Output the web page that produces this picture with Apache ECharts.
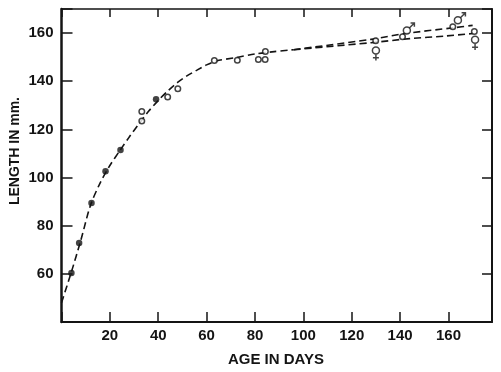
<!DOCTYPE html>
<html>
<head>
<meta charset="utf-8">
<style>html,body{margin:0;padding:0;background:#fff}#c{width:501px;height:372px}</style>
<script src="https://cdn.jsdelivr.net/npm/echarts@6/dist/echarts.min.js"></script>
</head>
<body>
<div id="c"></div>
<script>
// ---- data ----
var xTicks = [20, 40, 60, 80, 100, 120, 140, 160];
var yTicks = [60, 80, 100, 120, 140, 160];

var filledDays = [4.1, 7.3, 12.4, 18.2, 24.4, 39.1];
var filledLen  = [60.3, 72.8, 89.4, 102.6, 111.4, 132.5];

var openDays = [33.2, 33.2, 43.9, 48.1, 63.2, 72.7, 81.4, 84.2, 84.3, 129.9, 141.0, 161.8, 170.7];
var openLen  = [127.4, 123.5, 133.5, 136.9, 148.6, 148.7, 149.0, 149.0, 152.3, 156.8, 158.5, 162.6, 160.7];

// male (♂) and female (♀) marks: position of the circle of each sign
var maleDays = [142.8, 163.9];
var maleLen  = [161.1, 165.3];
var femaleDays = [130.0, 171.0];
var femaleLen  = [152.8, 157.2];

var curveDays = [0, 4, 8, 12, 16, 20, 24, 28, 32, 36, 40, 44, 48, 52, 56, 60, 64, 72, 80, 88, 96];
var curveLen  = [48, 60.5, 74, 88.5, 97.8, 105, 111, 116.8, 122.3, 127.5, 132, 136, 139.5, 142.3, 144.6, 146.8, 148.4, 149.8, 151.3, 152.3, 153.1];

var upperDays = [96, 128, 142, 162, 170];
var upperLen  = [153.1, 157.4, 159.8, 162.2, 163.2];
var lowerDays = [96, 128, 144, 159, 170];
var lowerLen  = [153.1, 156.0, 157.7, 158.8, 159.8];

function pairs(a, b) { return a.map(function (v, i) { return [v, b[i]]; }); }

var INK = '#141414';
var FONT = '"Liberation Sans", Arial, sans-serif';

var arrowPath = 'path://M0,5 L5,0 M1.2,0 L5,0 L5,3.8';
var crossPath = 'path://M3,0 L3,6 M0,3.2 L6,3.2';

var dash = { color: INK, width: 1.6, type: [7, 4] };
var openStyle = { color: '#fff', borderColor: INK, borderWidth: 1.5 };
var strokeOnly = { color: 'rgba(0,0,0,0)', borderColor: INK, borderWidth: 1.5 };

function xAx(pos, showLab, tickLen, lw) {
  return {
    type: 'value', min: 0, max: 178, interval: 20, position: pos,
    axisLine: { show: true, onZero: false, lineStyle: { color: INK, width: lw } },
    axisTick: { show: true, inside: true, length: tickLen, lineStyle: { color: INK, width: 1.5 } },
    axisLabel: {
      show: showLab, color: INK, fontFamily: FONT, fontWeight: 'bold', fontSize: 15, margin: 6,
      formatter: function (v) { return xTicks.indexOf(v) >= 0 ? String(v) : ''; }
    },
    splitLine: { show: false }
  };
}
function yAx(pos, showLab, tickLen, lw) {
  return {
    type: 'value', min: 40, max: 170, interval: 20, position: pos,
    axisLine: { show: true, onZero: false, lineStyle: { color: INK, width: lw } },
    axisTick: { show: true, inside: true, length: tickLen, lineStyle: { color: INK, width: 1.5 } },
    axisLabel: {
      show: showLab, color: INK, fontFamily: FONT, fontWeight: 'bold', fontSize: 15, margin: 8,
      formatter: function (v) { return yTicks.indexOf(v) >= 0 ? String(v) : ''; }
    },
    splitLine: { show: false }
  };
}

var chart = echarts.init(document.getElementById('c'), null, { renderer: 'canvas' });
chart.setOption({
  animation: false,
  backgroundColor: '#fff',
  grid: { left: 61.5, right: 9, top: 9, bottom: 50, containLabel: false },
  xAxis: [xAx('bottom', true, 10, 2), xAx('top', false, 8, 1.5)],
  yAxis: [yAx('left', true, 11, 2.5), yAx('right', false, 10, 2)],
  graphic: [{
    type: 'text', left: 8, top: 97, rotation: Math.PI / 2,
    style: { text: 'LENGTH IN mm.', fill: INK, font: 'bold 14px ' + FONT }
  }, {
    type: 'text', x: 276, y: 360,
    style: { text: 'AGE IN DAYS', fill: INK, font: 'bold 15px ' + FONT, align: 'center', verticalAlign: 'middle' }
  }],
  series: [{
    type: 'line', data: pairs(curveDays, curveLen), smooth: 0.3, showSymbol: false,
    lineStyle: dash, z: 2, silent: true
  }, {
    type: 'line', data: pairs(upperDays, upperLen), smooth: 0.3, showSymbol: false,
    lineStyle: dash, z: 2, silent: true
  }, {
    type: 'line', data: pairs(lowerDays, lowerLen), smooth: 0.3, showSymbol: false,
    lineStyle: dash, z: 2, silent: true
  }, {
    type: 'scatter', data: pairs(filledDays, filledLen), symbol: 'circle', symbolSize: 6.5,
    itemStyle: { color: INK }, z: 3
  }, {
    type: 'scatter', data: pairs(openDays, openLen), symbol: 'circle', symbolSize: 5.5,
    itemStyle: openStyle, z: 3
  }, {
    // ♂ circle
    type: 'scatter', data: pairs(maleDays, maleLen), symbol: 'circle', symbolSize: 7,
    itemStyle: openStyle, z: 3
  }, {
    // ♂ arrow
    type: 'scatter', data: pairs(maleDays, maleLen), symbol: arrowPath, symbolSize: [5, 5],
    symbolOffset: [5, -5], itemStyle: strokeOnly, z: 3
  }, {
    // ♀ circle
    type: 'scatter', data: pairs(femaleDays, femaleLen), symbol: 'circle', symbolSize: 7,
    itemStyle: openStyle, z: 3
  }, {
    // ♀ cross
    type: 'scatter', data: pairs(femaleDays, femaleLen), symbol: crossPath, symbolSize: [6, 6],
    symbolOffset: [0, 7.2], itemStyle: strokeOnly, z: 3
  }]
});
</script>
</body>
</html>
